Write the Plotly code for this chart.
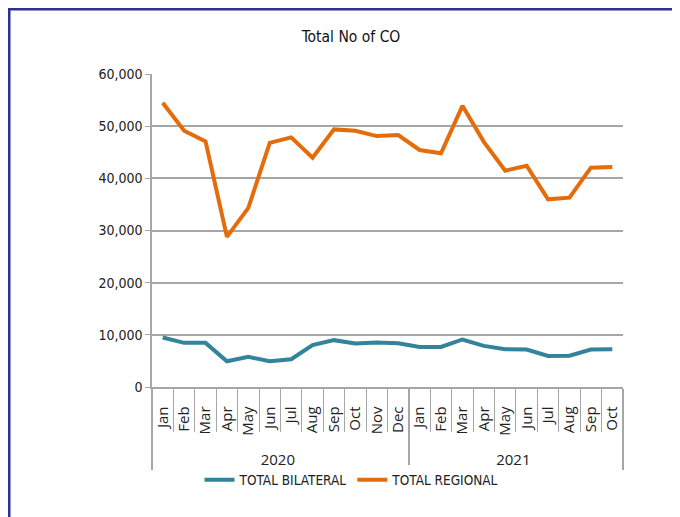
import plotly.graph_objects as go

years = ["2020"] * 12 + ["2021"] * 10
months = ["Jan", "Feb", "Mar", "Apr", "May", "Jun", "Jul", "Aug", "Sep", "Oct", "Nov", "Dec",
          "Jan", "Feb", "Mar", "Apr", "May", "Jun", "Jul", "Aug", "Sep", "Oct"]
total_bilateral = [9500, 8460, 8460, 4940, 5770, 4940, 5330, 8020, 8980, 8340, 8540, 8400,
                   7690, 7690, 9110, 7880, 7250, 7170, 5960, 6000, 7170, 7250]
total_regional = [54490, 49120, 47080, 28770, 34340, 46810, 47850, 43940, 49380, 49120, 48100, 48290,
                  45430, 44800, 53900, 47000, 41470, 42420, 35980, 36290, 42040, 42170]
y_ticks = [0, 10000, 20000, 30000, 40000, 50000, 60000]

FONT = "DejaVu Sans Condensed, Liberation Sans, sans-serif"
W, H = 680, 517
OFF = 8  # page offset of the figure inside the browser window
# plot area in window pixels: x 152..623, y 74..387
L, T = 152 - OFF, 74 - OFF
R = W - (623 - OFF)
B = H - (387 - OFF)
pw, ph = W - L - R, H - T - B

fig = go.Figure()
fig.add_trace(go.Scatter(x=[years, months], y=total_bilateral, mode="lines",
                         name="TOTAL BILATERAL", line=dict(color="#31849b", width=4)))
fig.add_trace(go.Scatter(x=[years, months], y=total_regional, mode="lines",
                         name="TOTAL REGIONAL", line=dict(color="#e46c0a", width=4)))

def px_x(p):
    return (p - L) / pw

def px_y(p):
    return (H - B - p) / ph

# dark blue frame (top and left edges visible)
fig.add_shape(type="rect", xref="paper", yref="paper",
              x0=px_x(1), x1=px_x(W + 20), y0=px_y(H + 20), y1=px_y(1),
              line=dict(color="#2e3192", width=3), layer="above")

fig.update_layout(
    width=W, height=H,
    margin=dict(l=L, r=R, t=T, b=B, autoexpand=False),
    paper_bgcolor="white", plot_bgcolor="white",
    title=dict(text="Total No of CO", x=(351 - OFF) / W, xref="container", xanchor="center",
               y=1 - (37 - OFF) / H, yref="container", yanchor="middle",
               font=dict(family=FONT, size=15.5, color="#111111")),
    font=dict(family=FONT, color="#222222"),
    showlegend=True,
    legend=dict(orientation="h", xref="container", yref="container",
                x=(352 - OFF) / W, xanchor="center", y=1 - (480 - OFF) / H, yanchor="middle",
                font=dict(family=FONT, size=13.5, color="#222222"),
                itemwidth=30, tracegroupgap=0),
)
fig.update_yaxes(range=[0, 60000], tickvals=y_ticks, tickformat=",d", automargin=False,
                 showgrid=True, gridcolor="#a6a6a6", gridwidth=1.5,
                 showline=True, linecolor="#a6a6a6", linewidth=1.5,
                 ticks="outside", ticklen=5, tickcolor="#a6a6a6",
                 tickfont=dict(family=FONT, size=14, color="#222222"), zeroline=False)
fig.update_xaxes(type="multicategory", automargin=False, range=[-0.5, len(months) - 0.5],
                 showline=True, linecolor="#a6a6a6", linewidth=1.5,
                 ticks="outside", tickson="boundaries", ticklen=43, tickcolor="#a6a6a6",
                 showdividers=True, dividercolor="#a6a6a6", dividerwidth=1.5,
                 tickangle=-90, showgrid=False, ticksuffix="\u00a0\u00a0\u00a0",
                 tickfont=dict(family="Open Sans, sans-serif", size=15, color="#222222"))

fig.write_html("out.html")
